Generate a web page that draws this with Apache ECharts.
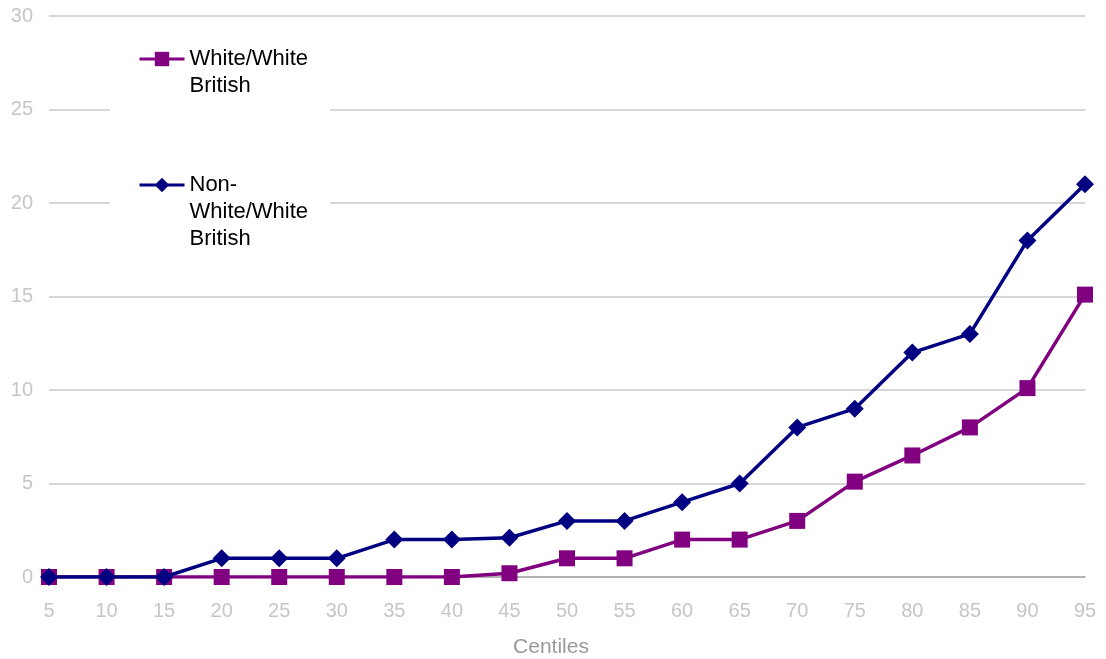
<!DOCTYPE html>
<html>
<head>
<meta charset="utf-8">
<script src="https://cdn.jsdelivr.net/npm/echarts@6/dist/echarts.min.js"></script>
<style>html,body{margin:0;padding:0;background:#fff}#c{width:1106px;height:659px}</style>
</head>
<body>
<div id="c"></div>
<script>
var centiles = ['5','10','15','20','25','30','35','40','45','50','55','60','65','70','75','80','85','90','95'];
var whiteBritish = [0,0,0,0,0,0,0,0,0.2,1,1,2,2,3,5.1,6.5,8,10.1,15.1];
var nonWhiteBritish = [0,0,0,1,1,1,2,2,2.1,3,3,4,5,8,9,12,13,18,21];
var seriesNames = ['White/White British', 'Non-White/White British'];
var legendLines = {
  'White/White British': ['White/White', 'British'],
  'Non-White/White British': ['Non-', 'White/White', 'British']
};
var yTicks = {min: 0, max: 30, interval: 5};

var chart = echarts.init(document.getElementById('c'), null, {renderer: 'canvas'});
var font = 'Liberation Sans, Arial, sans-serif';
var LH = 27;
function legendFor(name, iconCenterY) {
  var lines = legendLines[name];
  var total = 2 * lines.length - 1;
  return {
    show: true,
    data: [name],
    left: 138,
    top: iconCenterY - total * LH / 2,
    padding: 0,
    itemWidth: 45,
    itemHeight: 18,
    itemGap: 0,
    lineStyle: {width: 3},
    formatter: function (n) {
      var l = legendLines[n];
      // blank lines above so the first text line sits level with the icon
      return new Array(l.length).join('\n') + l.join('\n');
    },
    textStyle: {fontFamily: font, fontSize: 22, color: '#000', lineHeight: LH},
    z: 5
  };
}
chart.setOption({
  animation: false,
  backgroundColor: '#fff',
  grid: {left: 49, right: 21, top: 16, bottom: 82, containLabel: false, outerBoundsMode: 'none'},
  graphic: [{
    type: 'rect', z: 1, silent: true,
    shape: {x: 110, y: 24, width: 220, height: 240},
    style: {fill: '#fff'}
  }],
  legend: [legendFor(seriesNames[0], 59), legendFor(seriesNames[1], 185)],
  xAxis: {
    type: 'category',
    data: centiles,
    boundaryGap: false,
    name: 'Centiles',
    nameLocation: 'middle',
    nameGap: 60,
    nameTextStyle: {fontFamily: font, fontSize: 21, color: '#999', padding: [0, 32, 0, 0]},
    axisLine: {lineStyle: {color: '#a6a6a6', width: 1.5}},
    axisTick: {show: false},
    axisLabel: {fontFamily: font, fontSize: 20, color: '#c6c6c6', margin: 24},
    splitLine: {show: false}
  },
  yAxis: {
    type: 'value',
    min: yTicks.min, max: yTicks.max, interval: yTicks.interval,
    axisLine: {show: false},
    axisTick: {show: false},
    axisLabel: {fontFamily: font, fontSize: 20, color: '#c6c6c6', margin: 16},
    splitLine: {lineStyle: {color: '#c8c8c8', width: 1.5}}
  },
  series: [{
    name: seriesNames[0],
    type: 'line',
    data: whiteBritish,
    symbol: 'rect',
    symbolSize: 16,
    itemStyle: {color: '#800080'},
    lineStyle: {color: '#800080', width: 3.5},
    z: 2
  }, {
    name: seriesNames[1],
    type: 'line',
    data: nonWhiteBritish,
    symbol: 'diamond',
    symbolSize: 18,
    itemStyle: {color: '#000080'},
    lineStyle: {color: '#000080', width: 3.5},
    z: 3
  }]
});
</script>
</body>
</html>
